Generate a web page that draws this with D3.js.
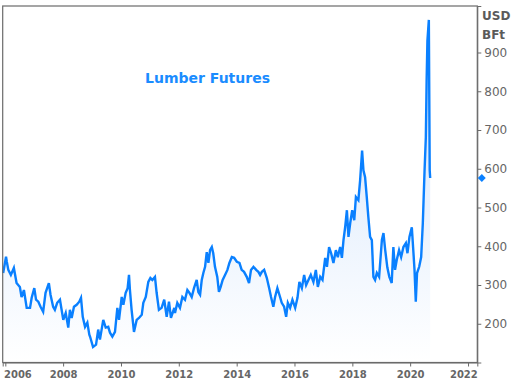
<!DOCTYPE html>
<html><head><meta charset="utf-8">
<script src="https://cdn.jsdelivr.net/npm/d3@7"></script>
<style>html,body{margin:0;padding:0;background:#fff;}svg{display:block;}</style>
</head><body><svg id="c" width="518" height="382"></svg>
<script>
const dates = ["2005-12-05","2006-01-10","2006-01-20","2006-02-08","2006-03-12","2006-04-19","2006-05-23","2006-07-04","2006-07-25","2006-08-24","2006-09-28","2006-11-09","2006-11-30","2007-01-02","2007-01-24","2007-02-22","2007-03-22","2007-04-24","2007-05-24","2007-07-05","2007-07-26","2007-08-28","2007-09-19","2007-10-18","2007-11-22","2007-12-13","2008-01-03","2008-02-03","2008-03-06","2008-03-27","2008-04-18","2008-05-17","2008-06-20","2008-07-23","2008-08-14","2008-09-05","2008-10-04","2008-11-02","2008-11-27","2008-12-06","2009-01-13","2009-02-20","2009-03-19","2009-04-10","2009-05-22","2009-06-22","2009-07-24","2009-08-15","2009-09-14","2009-10-17","2009-11-16","2009-12-07","2010-01-10","2010-01-31","2010-03-01","2010-03-26","2010-04-12","2010-04-24","2010-05-15","2010-06-14","2010-07-18","2010-08-16","2010-09-20","2010-10-10","2010-11-10","2010-12-12","2011-01-07","2011-02-01","2011-03-06","2011-03-27","2011-04-25","2011-05-29","2011-07-01","2011-08-01","2011-08-30","2011-09-24","2011-11-05","2011-11-14","2011-12-13","2012-01-16","2012-02-15","2012-03-19","2012-04-18","2012-05-13","2012-06-12","2012-07-11","2012-08-14","2012-09-04","2012-09-26","2012-10-17","2012-11-06","2012-11-28","2012-12-19","2013-01-09","2013-01-30","2013-02-21","2013-03-11","2013-04-02","2013-05-01","2013-05-22","2013-06-13","2013-07-08","2013-08-07","2013-09-06","2013-10-01","2013-11-01","2013-11-30","2014-01-03","2014-02-05","2014-03-05","2014-04-04","2014-05-08","2014-06-06","2014-07-01","2014-08-01","2014-09-04","2014-10-02","2014-10-24","2014-11-15","2014-12-14","2015-01-17","2015-02-15","2015-03-11","2015-04-09","2015-05-01","2015-05-30","2015-07-03","2015-07-24","2015-08-23","2015-09-18","2015-10-09","2015-11-07","2015-12-06","2016-01-10","2016-02-08","2016-03-03","2016-04-03","2016-05-02","2016-05-27","2016-06-25","2016-07-25","2016-08-27","2016-09-27","2016-10-22","2016-11-21","2016-12-20","2017-01-23","2017-02-14","2017-03-13","2017-04-08","2017-05-07","2017-06-07","2017-07-01","2017-07-31","2017-08-22","2017-09-11","2017-10-02","2017-10-24","2017-11-13","2017-12-05","2017-12-30","2018-01-25","2018-02-15","2018-03-18","2018-04-09","2018-05-04","2018-05-21","2018-06-11","2018-07-02","2018-07-22","2018-08-13","2018-09-04","2018-09-24","2018-10-15","2018-11-06","2018-12-05","2019-01-09","2019-01-29","2019-02-20","2019-03-19","2019-04-13","2019-05-13","2019-06-03","2019-06-24","2019-07-16","2019-08-14","2019-09-09","2019-10-08","2019-11-08","2019-11-28","2019-12-23","2020-01-22","2020-02-12","2020-02-25","2020-03-12","2020-03-28","2020-04-24","2020-05-19","2020-06-09","2020-07-01","2020-07-17","2020-07-27","2020-08-06","2020-08-24","2020-09-04","2020-09-10"];
const prices = [331,373,360,339,326,344,305,295,269,287,241,241,267,292,262,257,244,231,280,305,275,244,236,254,262,236,210,228,190,236,215,244,249,257,267,218,192,203,172,167,140,146,185,159,210,190,192,177,167,179,241,210,269,249,280,292,326,287,236,179,210,215,223,254,269,308,318,313,321,280,236,241,262,218,257,215,241,228,254,241,269,262,287,280,269,292,313,282,275,313,331,347,385,357,390,398,382,347,321,282,295,313,326,339,357,372,370,360,357,339,334,321,305,339,347,339,334,326,334,339,318,292,269,244,269,292,269,254,244,218,254,241,262,241,267,308,292,326,300,313,326,308,339,295,321,313,370,347,398,382,357,390,372,398,370,416,449,493,424,460,493,467,527,519,570,647,596,578,527,475,424,416,321,313,331,321,416,434,390,345,321,305,398,339,365,390,372,398,408,382,424,449,382,339,257,331,347,372,460,596,681,827,930,984,596,576];
const yTicks = [200,300,400,500,600,700,800,900];
const xTickYears = [2006,2008,2010,2012,2014,2016,2018,2020,2022];
const unitLabels = ["USD","BFt"];
const title = "Lumber Futures";
const lastValue = 576;

const parse = d3.timeParse("%Y-%m-%d");
const data = dates.map((d,i)=>({date:parse(d), v:prices[i]}));
const svg = d3.select("#c");
const L=2.7, R=477.3, T=6, B=362.5;
const x = d3.scaleTime().domain([new Date(2005,10,29), new Date(2022,3,28)]).range([L,R]);
const y = d3.scaleLinear().domain([100,1020]).range([B,T]);

const defs = svg.append("defs");
const g = defs.append("linearGradient").attr("id","ag").attr("gradientUnits","userSpaceOnUse")
  .attr("x1",0).attr("x2",0).attr("y1",y(d3.max(prices))).attr("y2",B);
g.append("stop").attr("offset",0).attr("stop-color","#cfe2fb");
g.append("stop").attr("offset",1).attr("stop-color","#ffffff");

svg.append("path").datum(data).attr("fill","url(#ag)")
  .attr("d", d3.area().x(d=>x(d.date)).y0(B).y1(d=>y(d.v)));
svg.append("path").datum(data).attr("fill","none").attr("stroke","#0a80ff").attr("stroke-width",2.4)
  .attr("stroke-linejoin","miter")
  .attr("d", d3.line().x(d=>x(d.date)).y(d=>y(d.v)));

// frame
svg.append("rect").attr("x",L).attr("y",T).attr("width",R-L).attr("height",B-T)
  .attr("fill","none").attr("stroke","#6a6a6a").attr("stroke-width",1.2);

const ax = svg.append("g").attr("transform",`translate(${R},0)`)
  .call(d3.axisRight(y).tickValues(yTicks).tickSize(4).tickPadding(3));
ax.select(".domain").attr("stroke","#6a6a6a");
ax.selectAll(".tick line").attr("stroke","#6a6a6a");
ax.selectAll("text").attr("fill","#666").style("font-family","DejaVu Sans").style("font-size","12px");

const bx = svg.append("g").attr("transform",`translate(0,${B})`)
  .call(d3.axisBottom(x).tickValues(xTickYears.map(yr=>new Date(yr,0,1))).tickFormat(d3.timeFormat("%Y")).tickSize(4).tickPadding(4));
bx.select(".domain").attr("stroke","#6a6a6a");
bx.selectAll(".tick line").attr("stroke","#6a6a6a");
bx.selectAll("text").attr("fill","#666").style("font-family","DejaVu Sans").style("font-weight","bold").style("font-size","10px");
// keep edge labels inside the frame like the reference
const tks = bx.selectAll(".tick text").nodes();
const firstX = x(new Date(xTickYears[0],0,1)), lastX = x(new Date(xTickYears[xTickYears.length-1],0,1));
d3.select(tks[0]).attr("text-anchor","start").attr("x", L + 0.8 - firstX);
d3.select(tks[tks.length-1]).attr("text-anchor","end").attr("x", R - lastX);

svg.selectAll(".unit").data(unitLabels).enter().append("text")
  .attr("x",482).attr("y",(d,i)=>20+i*19).text(d=>d)
  .attr("fill","#5a5a5a").style("font-family","DejaVu Sans").style("font-weight","bold").style("font-size","12px");

svg.append("text").attr("x",207.5).attr("y",83).attr("text-anchor","middle").text(title)
  .attr("fill","#1a8cff").style("font-family","DejaVu Sans").style("font-weight","bold").style("font-size","14px");

svg.append("path").attr("d",d3.symbol(d3.symbolDiamond2,40)())
  .attr("transform",`translate(${R+4.5},${y(lastValue)})`).attr("fill","#0a80ff");
</script></body></html>
